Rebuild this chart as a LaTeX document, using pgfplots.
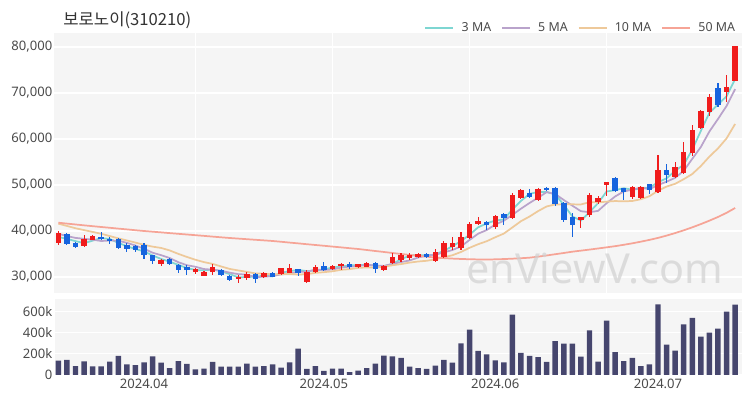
\documentclass[border=0pt]{standalone}
\usepackage{pgfplots}
\pgfplotsset{compat=1.18}
\usepackage{pgfplotstable}
\usepackage{fontspec}
\setmainfont{Noto Sans}
\newfontfamily\krfont{Noto Sans CJK KR}
\definecolor{bgc}{HTML}{F5F5F5}
\definecolor{upc}{HTML}{F01C1C}
\definecolor{dnc}{HTML}{1664DE}
\definecolor{volc}{HTML}{46466E}
\definecolor{maA}{HTML}{7ED6D2}
\definecolor{maB}{HTML}{B9A3CB}
\definecolor{maC}{HTML}{EEC99A}
\definecolor{maD}{HTML}{F6A496}
\definecolor{tickc}{HTML}{4A4A4A}
\definecolor{titlec}{HTML}{333333}

\pgfplotstableread{
i o h l c v m3 m5 m10 m50
0 37457 39935 36890 39630 135000 38710 39400 41600 41800
1 39413 39630 37022 37239 142000 38290 38900 41100 41610
2 37457 37600 36400 36520 85000 37796 38500 40600 41420
3 36740 39065 36520 38326 129000 37362 38300 40200 41230
4 38109 39196 37978 38848 82000 37898 38113 39800 41050
5 38696 39783 37978 38196 82000 38457 37826 39400 40870
6 38326 38696 37239 37761 126000 38268 37930 38900 40700
7 38196 38478 36022 36305 180000 37421 37887 38400 40520
8 37022 37457 35435 36022 101000 36696 37426 37950 40350
9 36674 37022 35435 35935 94000 36087 36844 37478 40170
10 37022 37457 33848 34717 120000 35558 36148 36987 40000
11 34717 34848 32891 33413 176000 34688 35278 36604 39850
12 32891 33978 32391 33630 117000 33920 34743 36315 39700
13 33978 34109 32674 32891 66000 33311 34117 35772 39540
14 32543 32891 30935 31457 132000 32659 33222 35033 39390
15 32174 32674 30500 31457 104000 31935 32570 34359 39240
16 31087 32022 30717 31674 54000 31529 32222 33750 39090
17 30283 31300 30200 31152 60000 31428 31726 33235 38940
18 31087 32761 30500 32174 123000 31667 31583 32850 38780
19 31457 31700 30200 30370 79000 31232 31365 32294 38630
20 30283 30400 29200 29348 79000 30631 30944 31757 38480
21 29500 30435 28760 30065 79000 29928 30622 31422 38350
22 29717 31000 29348 30587 107000 30000 30509 31118 38220
23 30587 30800 28630 29500 79000 30051 29974 30778 38090
24 29935 31000 29800 30800 85000 30296 30060 30713 37960
25 30800 31000 29900 30065 101000 30122 30203 30574 37830
26 30650 32000 30435 31891 69000 30919 30569 30595 37660
27 30935 32761 30800 31891 120000 31282 30829 30669 37480
28 31674 31800 30200 30800 249000 31527 31089 30532 37310
29 28978 31522 28760 31152 57000 31281 31160 30610 37130
30 31152 32609 30804 32239 85000 31397 31595 30899 36960
31 32457 33326 31370 31522 38000 31638 31521 31045 36790
32 31739 32600 31600 32457 60000 32073 31634 31232 36610
33 32391 32978 31522 32826 60000 32268 32039 31564 36440
34 32826 33326 31739 32239 28000 32507 32257 31708 36260
35 32109 32900 32000 32761 41000 32609 32361 31978 36090
36 32239 33326 32100 32978 66000 32659 32652 32087 35870
37 33109 33326 30804 31674 107000 32471 32496 32065 35650
38 31522 32500 31400 32391 183000 32348 32409 32224 35440
39 33109 35152 32826 34413 175000 32826 32843 32550 35220
40 33700 35283 33326 34783 161000 33862 33248 32804 35000
41 34200 35300 33800 34700 79000 34632 33592 33122 34800
42 34350 35200 34100 34900 66000 34794 34237 33367 34600
43 34930 35150 34200 34410 57000 34670 34641 33525 34410
44 33480 36000 33260 35370 88000 34893 34833 33838 34240
45 34410 37760 34200 37330 142000 35703 35342 34295 34100
46 36590 38700 35870 37330 117000 36677 35868 34730 34000
47 36240 39850 35800 38760 299000 37807 36640 35439 33920
48 38413 42022 38261 41457 428000 39182 38049 36345 33860
49 41457 43109 41304 42174 227000 40797 39410 37121 33820
50 42022 42100 40217 41304 195000 41645 40205 37774 33800
51 40935 43478 40500 43326 139000 42268 41404 38636 33840
52 43630 43848 41304 42891 120000 42507 42230 39435 33900
53 42891 48196 42674 47826 570000 44681 43504 40777 33980
54 47109 49130 46880 48913 208000 46543 44852 42131 34080
55 48196 49130 47239 47457 180000 48065 46083 43144 34200
56 46739 49348 46522 49130 170000 48500 47243 44324 34420
57 49413 49630 48696 48913 123000 48500 48448 45339 34680
58 49413 49630 45500 45804 321000 47949 48043 45774 34950
59 46022 46370 42022 42391 296000 45703 46739 45796 35220
60 43109 43848 38761 41304 296000 43166 45508 45796 35500
61 42391 43109 40587 43109 173000 42268 44304 45774 35730
62 43478 48196 43109 47826 422000 44080 44087 46267 35960
63 46370 47674 45804 47239 126000 46058 44374 46209 36200
64 49900 50717 47674 50700 513000 48588 46036 46387 36450
65 51457 51800 48500 48696 217000 48878 47514 46511 36700
66 49413 49413 46739 48543 132000 49313 48601 46453 37000
67 47457 49848 47022 49630 161000 48956 48962 46524 37320
68 47109 49700 47000 49630 85000 49268 49440 46907 37680
69 50152 50152 48043 48913 101000 49391 49082 47559 38070
70 48543 56522 48326 53261 668000 50601 49995 48755 38500
71 53261 54565 50370 52174 287000 51449 50722 49661 39000
72 51674 55065 51457 53848 230000 53094 51565 50263 39550
73 52543 59413 52391 57239 479000 54420 53087 51263 40150
74 56891 63043 56304 61957 539000 57681 55696 52389 40800
75 62326 66300 62100 66087 362000 61761 58261 54128 41500
76 65935 69717 65000 69065 400000 65703 61639 56180 42250
77 71022 72109 66891 67391 438000 67514 64348 57957 43050
78 70283 73913 68109 71370 598000 69275 67174 60131 43950
79 72674 80300 72674 80300 665000 73020 70843 63269 45000
}\data

\begin{document}
\begin{tikzpicture}
\path[use as bounding box] (0pt,0pt) rectangle (562.5pt,300pt);
\node[anchor=west, font=\krfont\fontsize{12.5}{14}\selectfont, text=titlec, inner sep=0pt] at (47.25pt,285pt) {보로노이(310210)};

\begin{axis}[
  at={(40.875pt,80.25pt)}, anchor=south west, scale only axis,
  width=515.6pt, height=195pt,
  xmin=-0.45, xmax=79.8, ymin=26520, ymax=83050,
  axis background/.style={fill=bgc},
  axis line style={draw=none},
  major tick length=0pt,
  ytick={30000,40000,50000,60000,70000,80000},
  scaled y ticks=false,
  /pgf/number format/fixed,
  /pgf/number format/1000 sep={,},
  /pgf/number format/assume math mode=true,
  xtick={16,32,48,64}, xticklabels={},
  xmajorgrids, ymajorgrids,
  grid style={white, line width=0.9pt},
  ticklabel style={font=\fontsize{9.8}{11}\selectfont, text=tickc},
  yticklabel style={inner xsep=1.5pt},
  legend columns=4,
  legend style={at={(1,1)}, anchor=east, xshift=-3pt, yshift=4pt, draw=none, fill=none, inner sep=0pt,
    font=\fontsize{9.3}{11}\selectfont, text=tickc,
    /tikz/every odd column/.append style={column sep=3.5pt},
    /tikz/every even column/.append style={column sep=5.5pt}},
  legend image code/.code={\draw[#1, line width=1.3pt] (0pt,0pt) -- (21pt,0pt);},
]
\addplot[maA, line width=1.3pt, mark=none] table[x=i, y=m3] {\data};
\addlegendentry{3 MA}
\addplot[maB, line width=1.3pt, mark=none] table[x=i, y=m5] {\data};
\addlegendentry{5 MA}
\addplot[maC, line width=1.3pt, mark=none] table[x=i, y=m10] {\data};
\addlegendentry{10 MA}
\addplot[maD, line width=1.3pt, mark=none] table[x=i, y=m50] {\data};
\addlegendentry{50 MA}

% up candles: wicks and bodies
\addplot[forget plot, draw=none, mark=none, mark size=0pt,
  restrict expr to domain={\thisrow{c}-\thisrow{o}}{0:10000000},
  error bars/.cd, y dir=both, y explicit, error mark=none,
  error bar style={draw=upc, line width=0.8pt}]
  table[x=i, y expr={(\thisrow{h}+\thisrow{l})/2}, y error expr={(\thisrow{h}-\thisrow{l})/2}] {\data};
\addplot[forget plot, draw=none, mark=none, mark size=0pt,
  restrict expr to domain={\thisrow{c}-\thisrow{o}}{0:10000000},
  error bars/.cd, y dir=both, y explicit, error mark=none,
  error bar style={draw=upc, line width=4.1pt}]
  table[x=i, y expr={(\thisrow{o}+\thisrow{c})/2}, y error expr={max(abs(\thisrow{c}-\thisrow{o})/2,110)}] {\data};
% down candles
\addplot[forget plot, draw=none, mark=none, mark size=0pt,
  restrict expr to domain={\thisrow{o}-\thisrow{c}}{1:10000000},
  error bars/.cd, y dir=both, y explicit, error mark=none,
  error bar style={draw=dnc, line width=0.8pt}]
  table[x=i, y expr={(\thisrow{h}+\thisrow{l})/2}, y error expr={(\thisrow{h}-\thisrow{l})/2}] {\data};
\addplot[forget plot, draw=none, mark=none, mark size=0pt,
  restrict expr to domain={\thisrow{o}-\thisrow{c}}{1:10000000},
  error bars/.cd, y dir=both, y explicit, error mark=none,
  error bar style={draw=dnc, line width=4.1pt}]
  table[x=i, y expr={(\thisrow{o}+\thisrow{c})/2}, y error expr={max(abs(\thisrow{c}-\thisrow{o})/2,110)}] {\data};

\node[font=\fontsize{31}{34}\selectfont, text=black!18, text opacity=0.7] at (axis cs:62.6,31800) {enViewV.com};
\end{axis}

\begin{axis}[
  at={(40.875pt,18.75pt)}, anchor=south west, scale only axis,
  width=515.6pt, height=57pt,
  xmin=-0.45, xmax=79.8, ymin=0, ymax=718000,
  axis background/.style={fill=bgc},
  axis line style={draw=none},
  major tick length=0pt,
  xtick={10,31,51,70}, xticklabels={2024.04,2024.05,2024.06,2024.07},
  ytick={0,200000,400000,600000}, yticklabels={0,200k,400k,600k},
  scaled y ticks=false,
  ymajorgrids,
  grid style={white, line width=0.9pt},
  ticklabel style={font=\fontsize{9.8}{11}\selectfont, text=tickc},
  yticklabel style={inner xsep=1.5pt},
  xticklabel style={inner ysep=2.5pt},
]
\addplot[ybar, bar width=4.1pt, fill=volc, draw=none] table[x=i, y=v] {\data};
\end{axis}
\end{tikzpicture}
\end{document}
